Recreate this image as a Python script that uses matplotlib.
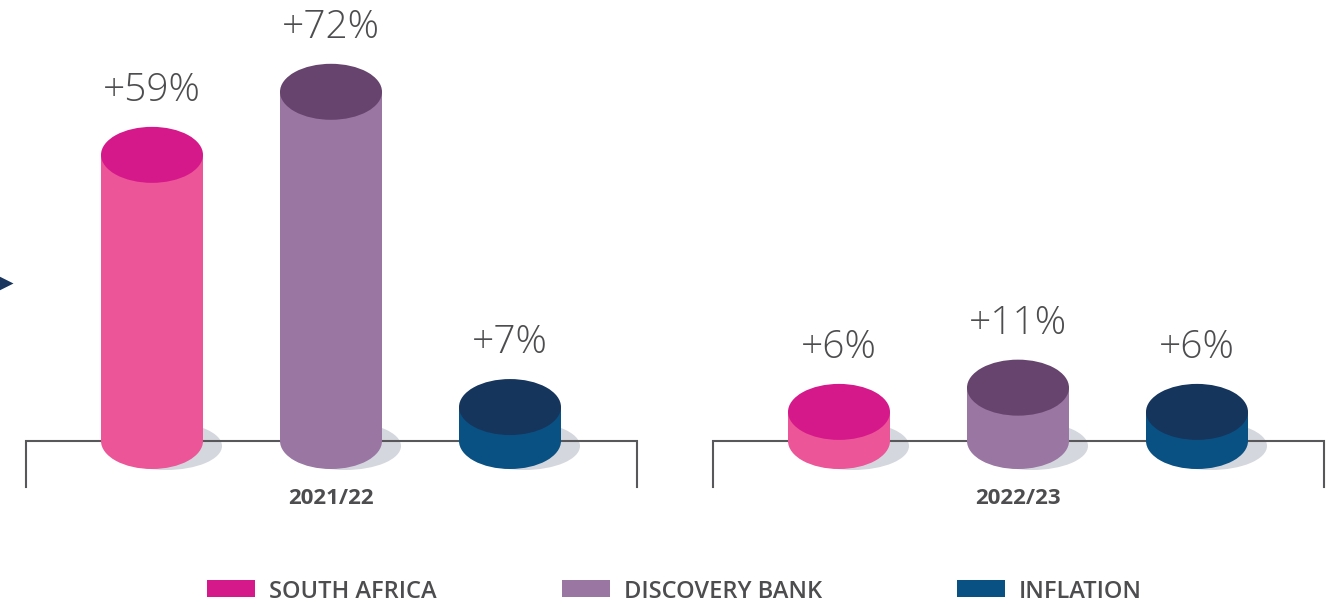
import numpy as np
import matplotlib
matplotlib.use("Agg")
import matplotlib.pyplot as plt
import matplotlib.patches as patches

# data
periods = ["2021/22", "2022/23"]
series = ["SOUTH AFRICA", "DISCOVERY BANK", "INFLATION"]
values = [[59, 72, 7], [6, 11, 6]]
top_colors = ["#d6198a", "#66446d", "#15355d"]
side_colors = ["#ec5598", "#9a76a3", "#0a5183"]
legend_colors = ["#d6198a", "#9a76a3", "#0a5183"]

W, H = 1341, 605
PX_X = 179.0      # pixels per category step
PX_Y = 4.85       # pixels per percent
X0, Y0 = 152, 441  # pixel position of first bar centre / baseline
GROUP_GAP = 687 / PX_X

text_col = "#4d4d4f"
plt.rcParams["font.family"] = ["Open Sans", "DejaVu Sans"]

fig = plt.figure(figsize=(W / 100, H / 100), dpi=100)
ax = fig.add_axes([0, 0, 1, 1])
ax.set_xlim((0 - X0) / PX_X, (W - X0) / PX_X)
ax.set_ylim((Y0 - H) / PX_Y, Y0 / PX_Y)
ax.axis("off")

bw = 102 / PX_X
ry = 28 / PX_Y

def px2fig(x, y):
    return x / W, 1 - y / H

for g, per in enumerate(periods):
    base = g * GROUP_GAP
    # bracket
    left = base + (26 - X0) / PX_X
    right = base + (637 - X0) / PX_X
    tick = -46 / PX_Y
    ax.plot([left, left, right, right], [tick, 0, 0, tick], color="#58585a",
            lw=1.5, zorder=2, solid_joinstyle="miter")
    ax.text(base + 1, -58 / PX_Y, per, ha="center", va="center", fontsize=16,
            fontweight="bold", color=text_col)
    for i, v in enumerate(values[g]):
        xc = base + i
        # shadow
        ax.add_patch(patches.Ellipse((xc + 14 / PX_X, -5 / PX_Y), 112 / PX_X, 48 / PX_Y,
                                     fc="#d5d7de", ec="none", zorder=1))
        # side
        ax.add_patch(patches.Rectangle((xc - bw / 2, 0), bw, v, fc=side_colors[i],
                                       ec="none", zorder=3))
        ax.add_patch(patches.Ellipse((xc, 0), bw, 2 * ry, fc=side_colors[i],
                                     ec="none", zorder=3))
        ax.add_patch(patches.Ellipse((xc, v), bw, 2 * ry, fc=top_colors[i],
                                     ec="none", zorder=4))
        ax.text(xc, v + ry + 26 / PX_Y, "+%d%%" % v, ha="center", va="baseline",
                fontsize=28, fontweight="light", color=text_col)

# arrow at the left edge
ax.plot([(3 - X0) / PX_X], [(Y0 - 283) / PX_Y], marker=">", ms=14,
        color="#1a365f", mec="none", clip_on=False)

# legend
leg_x = [207, 562, 957]
for i, name in enumerate(series):
    fx, fy = px2fig(leg_x[i], 597)
    fig.patches.append(patches.Rectangle((fx, fy), 48 / W, 17 / H, fc=legend_colors[i],
                                         ec="none", transform=fig.transFigure))
    tx, ty = px2fig(leg_x[i] + 62, 598)
    fig.text(tx, ty, name, ha="left", va="baseline", fontsize=17,
             fontweight="semibold", color=text_col)

fig.savefig("out.png", dpi=100)
